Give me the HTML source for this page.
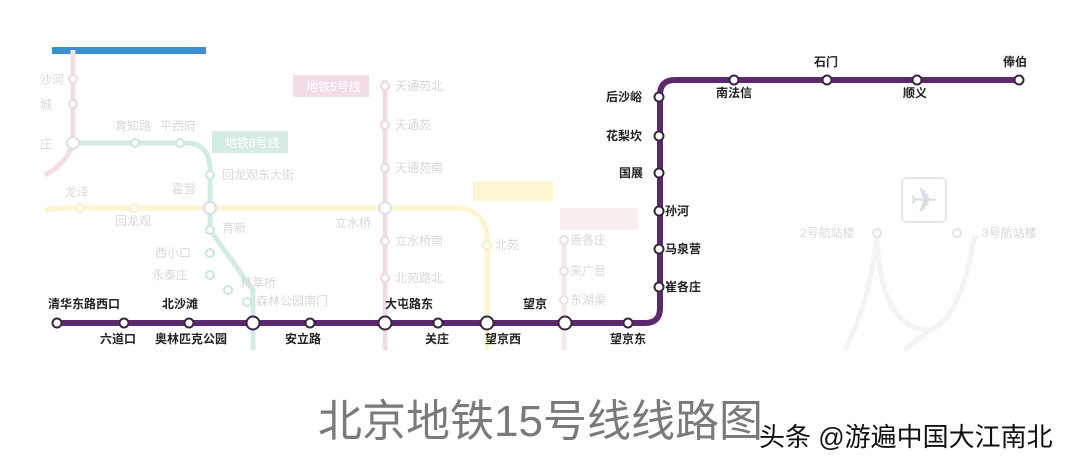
<!DOCTYPE html>
<html><head><meta charset="utf-8"><style>
html,body{margin:0;padding:0;background:#fff;width:1080px;height:465px;overflow:hidden}
svg text{font-family:"Liberation Sans","Noto Sans CJK SC",sans-serif}
</style></head><body>
<svg width="1080" height="465" viewBox="0 0 1080 465" xmlns="http://www.w3.org/2000/svg">
<rect x="52" y="47" width="154" height="7" fill="#3b8fca"/>
<g fill="none" stroke-width="5">
<path d="M73 50 V135 Q73 160 45 175" stroke="#f3dde6"/>
<path d="M75 143 H185 Q210 143 210 170 V230 L253 290 V350" stroke="#d3ece3"/>
<path d="M385 80 V350" stroke="#f0dbe9"/>
<path d="M45 210 Q55 208 70 208 H455 Q487 208 487 240 V350" stroke="#fbf6d0"/>
<path d="M564 235 V350" stroke="#f5e8e8"/>
<path d="M877 235 Q870 300 845 350 M877 235 Q880 330 930 330 Q960 320 975 235 M930 330 Q910 345 905 350" stroke="#f3f4f6"/>
</g>
<g fill="#fff" stroke-width="2">
<g stroke="#f0d6e0"><circle cx="73" cy="79" r="4"/><circle cx="73" cy="104" r="4"/><circle cx="385" cy="86" r="4"/><circle cx="385" cy="125" r="4"/><circle cx="385" cy="168" r="4"/><circle cx="385" cy="241" r="4"/><circle cx="385" cy="278" r="4"/></g>
<g stroke="#cbe7dd"><circle cx="135" cy="143" r="4"/><circle cx="180" cy="143" r="4"/><circle cx="210" cy="175" r="4"/><circle cx="210" cy="230" r="4"/><circle cx="210" cy="253" r="4"/><circle cx="210" cy="275" r="4"/><circle cx="228" cy="290" r="4"/><circle cx="247" cy="302" r="4"/></g>
<g stroke="#f8f0c4"><circle cx="80" cy="208" r="4"/><circle cx="134" cy="208" r="4"/><circle cx="487" cy="245" r="4"/></g>
<g stroke="#eedfe0"><circle cx="564" cy="240" r="4"/><circle cx="564" cy="271" r="4"/><circle cx="564" cy="300" r="4"/></g>
<g stroke="#e3e6ea"><circle cx="877" cy="233" r="4"/><circle cx="957" cy="233" r="4"/></g>
<g stroke="#e0e0e0"><circle cx="73" cy="143" r="6"/><circle cx="210" cy="208" r="6"/><circle cx="385" cy="208" r="6"/></g>
</g>
<rect x="293" y="75" width="76" height="22" fill="#f3dbe9"/>
<rect x="212" y="131" width="76" height="22" fill="#d4ece4"/>
<rect x="473" y="181" width="80" height="20" fill="#fcf6d2"/>
<rect x="560" y="208" width="78" height="22" fill="#f8eeed"/>
<rect x="902" y="178" width="44" height="44" rx="4" fill="#fff" stroke="#e3e7ec" stroke-width="2"/>
<text x="924" y="212" font-size="34" fill="#d8dee6" text-anchor="middle">✈</text>
<g font-size="12" fill="#d8d8d8">
<text x="40" y="84">沙河</text><text x="40" y="109">城</text><text x="40" y="148">庄</text>
<text x="115" y="130">育知路</text><text x="160" y="130">平西府</text>
<text x="222" y="179">回龙观东大街</text><text x="172" y="193">霍营</text><text x="65" y="196">龙泽</text>
<text x="115" y="225">回龙观</text><text x="222" y="232">育新</text><text x="155" y="257">西小口</text><text x="152" y="279">永泰庄</text>
<text x="240" y="287">林萃桥</text><text x="256" y="305">森林公园南门</text>
<text x="395" y="90">天通苑北</text><text x="395" y="129">天通苑</text><text x="395" y="172">天通苑南</text>
<text x="335" y="227">立水桥</text><text x="395" y="245">立水桥南</text><text x="395" y="282">北苑路北</text>
<text x="495" y="249">北苑</text><text x="570" y="244">善各庄</text><text x="570" y="275">来广营</text><text x="570" y="304">东湖渠</text>
<text x="800" y="237">2号航站楼</text><text x="982" y="237">3号航站楼</text>
<text x="306" y="91" fill="#fff">地铁5号线</text><text x="225" y="147" fill="#fff">地铁8号线</text>
</g>
<path d="M57 323 H645 Q660 323 660 308 V95 Q660 80 675 80 H1019" fill="none" stroke="#5b2a6e" stroke-width="6"/>
<g fill="#fff" stroke="#3a2440" stroke-width="2">
<circle cx="57" cy="323" r="4.5"/><circle cx="124" cy="323" r="4.5"/><circle cx="189" cy="323" r="4.5"/><circle cx="310" cy="323" r="4.5"/><circle cx="438" cy="323" r="4.5"/><circle cx="628" cy="323" r="4.5"/>
<circle cx="659" cy="97" r="4.5"/><circle cx="659" cy="136" r="4.5"/><circle cx="659" cy="173" r="4.5"/><circle cx="659" cy="211" r="4.5"/><circle cx="659" cy="249" r="4.5"/><circle cx="659" cy="287" r="4.5"/>
<circle cx="734" cy="80" r="4.5"/><circle cx="827" cy="80" r="4.5"/><circle cx="917" cy="80" r="4.5"/><circle cx="1019" cy="80" r="4.5"/>
<circle cx="253" cy="323" r="6.5"/><circle cx="385" cy="323" r="6.5"/><circle cx="487" cy="323" r="6.5"/><circle cx="565" cy="323" r="6.5"/>
</g>
<g font-size="12" font-weight="bold" fill="#222">
<text x="48" y="308">清华东路西口</text><text x="162" y="308">北沙滩</text><text x="385" y="308">大屯路东</text><text x="523" y="308">望京</text>
<text x="100" y="343">六道口</text><text x="155" y="343">奥林匹克公园</text><text x="285" y="343">安立路</text><text x="425" y="343">关庄</text><text x="485" y="343">望京西</text><text x="610" y="343">望京东</text>
<text x="606" y="101">后沙峪</text><text x="606" y="140">花梨坎</text><text x="619" y="177">国展</text>
<text x="665" y="215">孙河</text><text x="665" y="253">马泉营</text><text x="665" y="291">崔各庄</text>
<text x="716" y="97">南法信</text><text x="814" y="66">石门</text><text x="903" y="97">顺义</text><text x="1003" y="66">俸伯</text>
</g>
<text x="318" y="436" font-size="44" fill="#7a7a7a">北京地铁15号线线路图</text>
<text x="759" y="446" font-size="26" fill="#111">头条 @游遍中国大江南北</text>
</svg>
</body></html>
